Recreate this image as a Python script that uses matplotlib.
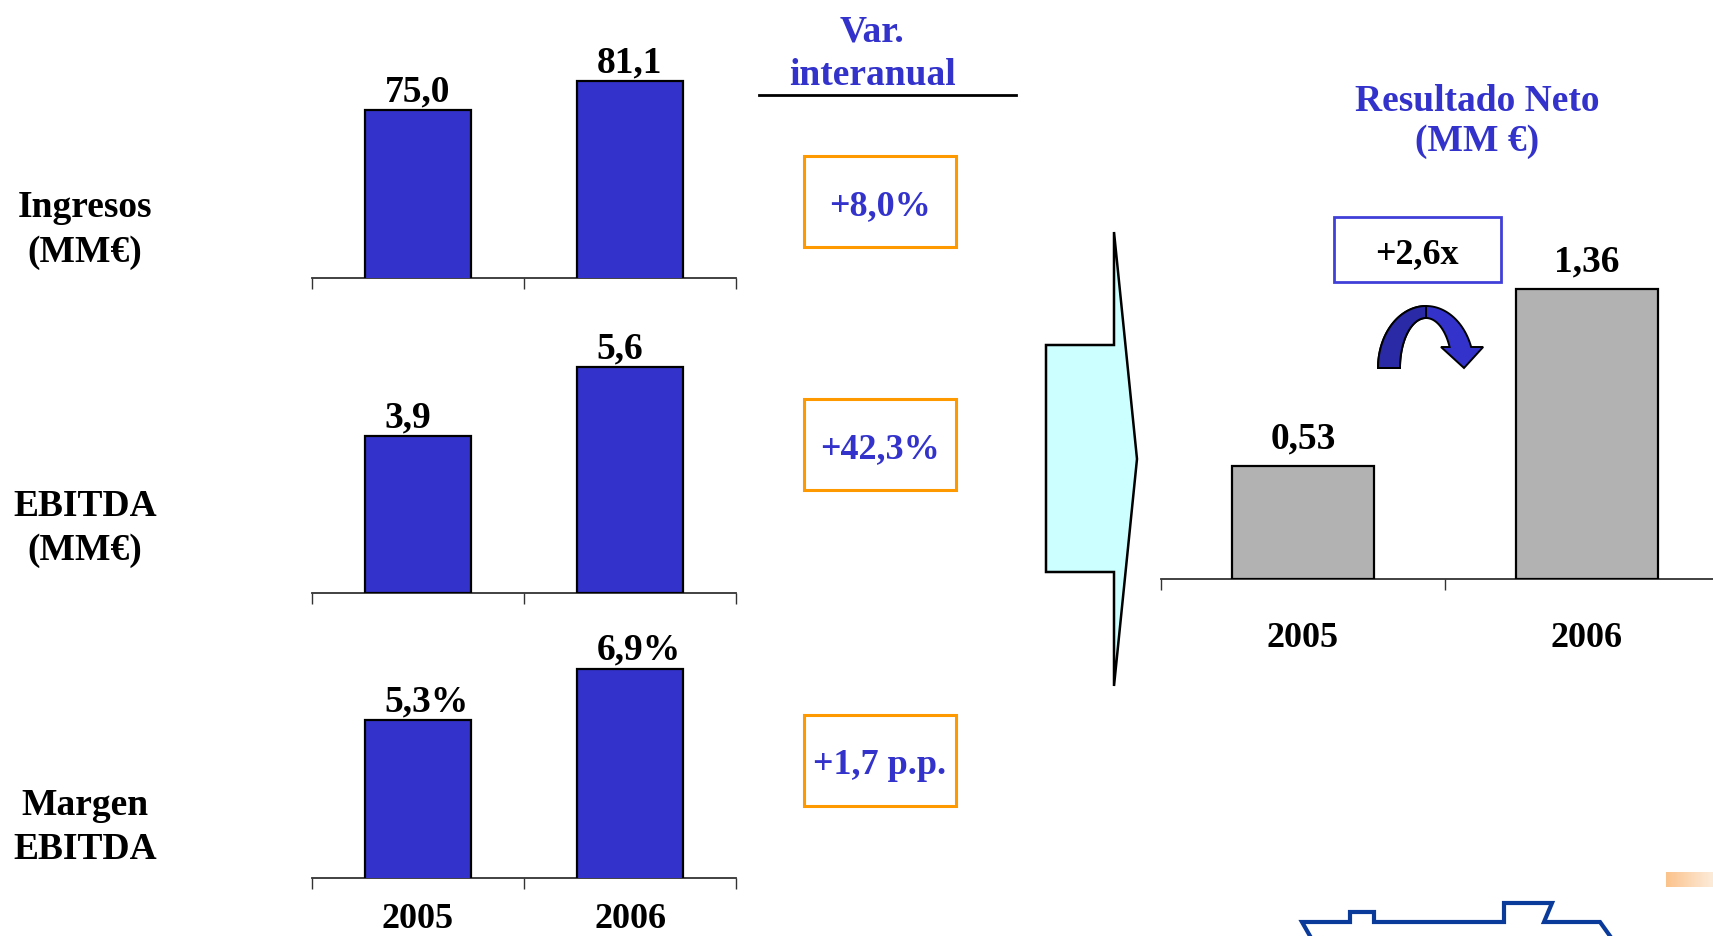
import numpy as np
import matplotlib
matplotlib.use("Agg")
import matplotlib.pyplot as plt
from matplotlib.patches import Polygon, Rectangle
from matplotlib.colors import LinearSegmentedColormap

# ---- data -------------------------------------------------------------
years = ["2005", "2006"]
ingresos = [75.0, 81.1]          # MM€
ebitda = [3.9, 5.6]              # MM€
margen_ebitda = [5.3, 6.9]       # %
resultado_neto = [0.53, 1.36]    # MM€

row_titles = [("Ingresos", "(MM€)"), ("EBITDA", "(MM€)"), ("Margen", "EBITDA")]
variations = ["+8,0%", "+42,3%", "+1,7 p.p."]
neto_multiple = "+2,6x"

# ---- style ------------------------------------------------------------
W, H = 1713, 937
FONT = "Liberation Serif"
BLUE = "#3333CC"
GREY = "#B2B2B2"
ORANGE = "#FF9900"
AXIS = "#333333"

plt.rcParams["font.family"] = [FONT, "DejaVu Serif"]
plt.rcParams["font.weight"] = "bold"

fig = plt.figure(figsize=(W / 100, H / 100), dpi=100)

# full-figure layer in pixel units (y grows downward) for annotations
ov = fig.add_axes([0, 0, 1, 1])
ov.set_xlim(0, W)
ov.set_ylim(H, 0)
ov.axis("off")


def pixel_axes(x0, x1, ytop, ybot):
    return fig.add_axes([x0 / W, 1 - ybot / H, (x1 - x0) / W, (ybot - ytop) / H])


def fmt(v, decimals, suffix=""):
    return f"{v:.{decimals}f}".replace(".", ",") + suffix


def bar_panel(values, labels, x0, x1, ytop, ybot, ybase, px_per_unit, color,
              label_offset, label_align="left", xmax=1.5, show_years=False,
              year_pad=20, year_size=26):
    ax = pixel_axes(x0, x1, ytop, ybot)
    ax.set_facecolor("none")
    x = np.arange(len(values))
    width = 0.5
    ax.bar(x, values, width=width, color=color, edgecolor="black",
           linewidth=1.6, zorder=3)
    ax.set_xlim(-0.5, xmax)
    ax.set_ylim(ybase, ybase + (ybot - ytop) / px_per_unit)
    for xi, v, lab in zip(x, values, labels):
        if label_align == "left":
            anchor, dx = xi - width / 2, 14
        else:
            anchor, dx = xi, 0
        ax.annotate(lab, (anchor, v), xytext=(dx, label_offset),
                    textcoords="offset points", ha=label_align, va="baseline",
                    fontsize=27, fontweight="bold", color="black")
    for s in ("left", "right", "top"):
        ax.spines[s].set_visible(False)
    ax.spines["bottom"].set_color(AXIS)
    ax.spines["bottom"].set_linewidth(1.3)
    ax.set_yticks([])
    ticks = [t for t in (-0.5, 0.5, 1.5) if t <= xmax]
    ax.set_xticks(ticks)
    ax.tick_params(axis="x", which="major", length=8, width=1.0,
                   color=AXIS, labelbottom=False)
    if show_years:
        ax.set_xticks(x, minor=True)
        ax.set_xticklabels(years, minor=True, fontsize=year_size,
                           fontweight="bold")
        ax.tick_params(axis="x", which="minor", length=0, pad=year_pad)
    return ax


# ---- left column: three bar panels -----------------------------------
bar_panel(ingresos, [fmt(v, 1) for v in ingresos],
          312, 736, 42, 279, 39.6, 4.746, BLUE, 7)
bar_panel(ebitda, [fmt(v, 1) for v in ebitda],
          312, 736, 342, 594, 0.0, 40.33, BLUE, 7)
bar_panel(margen_ebitda, [fmt(v, 1, "%") for v in margen_ebitda],
          312, 736, 622, 879, 0.4, 32.2, BLUE, 7,
          show_years=True, year_pad=17, year_size=26)

# row titles
title_baselines = [(217, 262), (516, 560), (815, 859)]
for (l1, l2), (b1, b2) in zip(row_titles, title_baselines):
    ov.text(85, b1, l1, ha="center", va="baseline", fontsize=27,
            fontweight="bold", color="black")
    ov.text(85, b2, l2, ha="center", va="baseline", fontsize=27,
            fontweight="bold", color="black")

# ---- year-on-year variation column ------------------------------------
ov.text(872, 42, "Var.", ha="center", va="baseline", fontsize=27,
        fontweight="bold", color=BLUE)
ov.text(872, 85, "interanual", ha="center", va="baseline", fontsize=27,
        fontweight="bold", color=BLUE)
ov.plot([759, 1016], [96, 96], color="black", lw=2)

box_rows = [(157, 248, 215), (400, 491, 458), (716, 807, 774)]
for txt, (yt, yb, base) in zip(variations, box_rows):
    ov.add_patch(Rectangle((804, yt), 152, yb - yt, fill=False,
                           edgecolor=ORANGE, lw=2.2))
    ov.text(880, base, txt, ha="center", va="baseline", fontsize=26,
            fontweight="bold", color=BLUE)

# ---- big arrow pointing to net result ----------------------------------
arrow_pts = [(1114, 233), (1137, 460), (1114, 687), (1114, 573),
             (1046, 573), (1046, 346), (1114, 346)]
ov.add_patch(Polygon(arrow_pts, closed=True, facecolor="#CCFFFF",
                     edgecolor="black", lw=1.8, joinstyle="miter"))

# ---- right: net result chart -------------------------------------------
cat_w = 284
xmax_right = -0.5 + (W - 1161) / cat_w
bar_panel(resultado_neto, [fmt(v, 2) for v in resultado_neto],
          1161, W, 200, 580, 0.0, 213.0, GREY, 13.5, label_align="center",
          xmax=xmax_right, show_years=True, year_pad=30, year_size=26)

ov.text(1477, 111, "Resultado Neto", ha="center", va="baseline",
        fontsize=27, fontweight="bold", color=BLUE)
ov.text(1477, 151, "(MM €)", ha="center", va="baseline",
        fontsize=27, fontweight="bold", color=BLUE)

ov.add_patch(Rectangle((1334, 218), 167, 65, fill=False,
                       edgecolor="#4040D8", lw=2))
ov.text(1417, 263, neto_multiple, ha="center", va="baseline", fontsize=26,
        fontweight="bold", color="black")

# curved growth arrow
cx, cy = 1426, 369
rxo, ryo, rxi, ryi = 48, 62, 26, 50
neck_y = 348
to = np.arcsin((cy - neck_y) / ryo)
ti = np.arcsin((cy - neck_y) / ryi)
th_o = np.linspace(np.pi, to, 60)
th_i = np.linspace(ti, np.pi, 60)
outer = np.column_stack([cx + rxo * np.cos(th_o), cy - ryo * np.sin(th_o)])
inner = np.column_stack([cx + rxi * np.cos(th_i), cy - ryi * np.sin(th_i)])
head = np.array([[cx + rxo * np.cos(to) + 12, neck_y],
                 [1464, 369],
                 [1441, neck_y]])
curve = np.vstack([outer, head, inner])
ov.add_patch(Polygon(curve, closed=True, facecolor=BLUE,
                     edgecolor="black", lw=1.4))
th_l = np.linspace(np.pi, np.pi / 2, 40)
left_half = np.vstack([
    np.column_stack([cx + rxo * np.cos(th_l), cy - ryo * np.sin(th_l)]),
    np.column_stack([cx + rxi * np.cos(th_l[::-1]), cy - ryi * np.sin(th_l[::-1])]),
])
ov.add_patch(Polygon(left_half, closed=True, facecolor="#2A2AA6",
                     edgecolor="black", lw=1.4))

# ---- corner decorations ------------------------------------------------
grad = np.linspace(0, 1, 64).reshape(1, -1)
cmap = LinearSegmentedColormap.from_list("peach", ["#FBC38C", "#FDEBDA"])
ov.imshow(grad, extent=(1666, W, 888, 873), cmap=cmap, aspect="auto",
          zorder=1)

logo = [(1310, 937), (1302, 923), (1350, 923), (1350, 913), (1374, 913),
        (1374, 923), (1504, 923), (1504, 904), (1552, 904), (1544, 923),
        (1600, 923), (1610, 937)]
lx, ly = zip(*logo)
ov.plot(lx, ly, color="#0A3A9A", lw=3, solid_joinstyle="miter")

ov.set_xlim(0, W)
ov.set_ylim(H, 0)

fig.savefig("out.png", dpi=100, facecolor="white")
